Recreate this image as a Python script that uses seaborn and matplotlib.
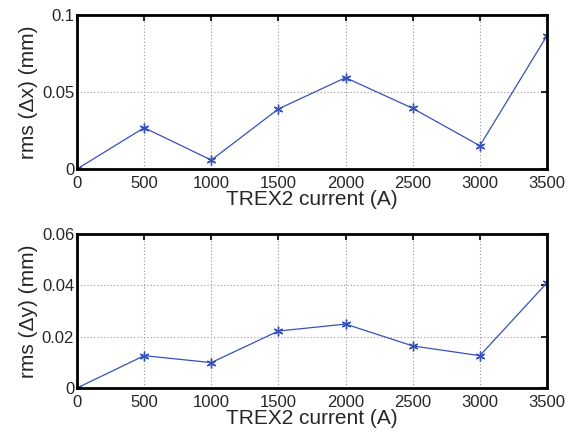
import matplotlib
matplotlib.use("Agg")
import pandas as pd
from matplotlib import pyplot as plt
import seaborn as sns

# 数据
current = [0, 500, 1000, 1500, 2000, 2500, 3000, 3500]
rms_dx = [0.0, 0.0268, 0.0058, 0.0390, 0.0593, 0.0394, 0.0151, 0.0866]
rms_dy = [0.0, 0.0126, 0.0099, 0.0222, 0.0249, 0.0164, 0.0126, 0.0410]
x_ticks = [0, 500, 1000, 1500, 2000, 2500, 3000, 3500]
dx_ticks = [0, 0.05, 0.1]
dx_ticklabels = ["0", "0.05", "0.1"]
dy_ticks = [0, 0.02, 0.04, 0.06]
dy_ticklabels = ["0", "0.02", "0.04", "0.06"]

sns.set_style("white")
plt.rcParams['font.family'] = ['Liberation Sans', 'DejaVu Sans']

df = pd.DataFrame({"current": current, "dx": rms_dx, "dy": rms_dy})

fig = plt.figure(figsize=(5.72, 4.33), dpi=100)
ax1 = fig.add_axes([0.1346, 0.6097, 0.8217, 0.3557])
ax2 = fig.add_axes([0.1346, 0.1039, 0.8217, 0.3557])

panels = [
    (ax1, "dx", dx_ticks, dx_ticklabels, "rms (\u0394x) (mm)"),
    (ax2, "dy", dy_ticks, dy_ticklabels, "rms (\u0394y) (mm)"),
]

for ax, col, yt, ytl, ylab in panels:
    # 星号标记（MATLAB 风格）
    sns.lineplot(data=df, x="current", y=col, ax=ax, color="#3652b8",
                 linewidth=0.9, marker=(6, 2, 0), markersize=7,
                 markeredgecolor="#3652b8", markeredgewidth=1.0)
    ax.set_xlim(0, 3500)
    ax.set_ylim(yt[0], yt[-1])
    ax.set_xticks(x_ticks)
    ax.set_yticks(yt)
    ax.set_yticklabels(ytl)
    ax.grid(True, linestyle=(0, (1, 2)), color="#999999", linewidth=0.8)
    ax.tick_params(direction="in", top=True, right=True, length=4,
                   width=1.5, labelsize=12)
    ax.tick_params(axis="x", pad=5)
    ax.tick_params(axis="y", pad=2)
    for s in ax.spines.values():
        s.set_linewidth(2)
        s.set_color("black")
    ax.set_xlabel("TREX2 current (A)", fontsize=15, labelpad=-1)
    ax.set_ylabel(ylab, fontsize=15, labelpad=3)

plt.savefig("out.png", dpi=100)
